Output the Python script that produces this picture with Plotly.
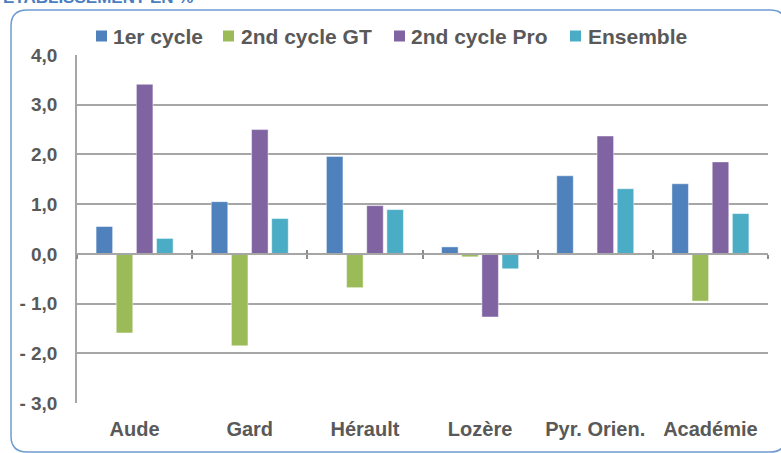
import plotly.graph_objects as go

categories = ["Aude", "Gard", "Hérault", "Lozère", "Pyr. Orien.", "Académie"]
series_names = ["1er cycle", "2nd cycle GT", "2nd cycle Pro", "Ensemble"]
v_1er = [0.55, 1.05, 1.96, 0.14, 1.57, 1.41]
v_gt = [-1.59, -1.85, -0.68, -0.06, None, -0.95]
v_pro = [3.41, 2.50, 0.97, -1.27, 2.37, 1.85]
v_ens = [0.31, 0.71, 0.89, -0.30, 1.31, 0.81]
y_tickvals = [-3, -2, -1, 0, 1, 2, 3, 4]
y_ticktext = ["- 3,0", "- 2,0", "- 1,0", "0,0", "1,0", "2,0", "3,0", "4,0"]
title_text = "ÉTABLISSEMENT EN %"

colors = ["#4f81bd", "#9bbb59", "#8064a2", "#4bacc6"]
values = [v_1er, v_gt, v_pro, v_ens]

W, H = 781, 453
ML, MR, MT, MB = 77, 13, 55, 50
PW, PH = W - ML - MR, H - MT - MB


def px(x):
    return (x - ML) / PW


def py(y):
    return (H - MB - y) / PH


fig = go.Figure()
for name, vals, col in zip(series_names, values, colors):
    fig.add_trace(go.Bar(
        x=categories, y=vals, name=name,
        marker=dict(color=col, line=dict(color="rgba(255,255,255,0.45)", width=1)),
        showlegend=False,
    ))

grey = "#595959"
font_family = "Liberation Sans, Arial, sans-serif"
boundaries = [i - 0.5 for i in range(len(categories) + 1)]

fig.update_layout(
    width=W, height=H,
    margin=dict(l=ML, r=MR, t=MT, b=MB),
    paper_bgcolor="white", plot_bgcolor="white",
    barmode="group", bargap=0.3, bargroupgap=0.18,
    font=dict(family=font_family, color=grey),
    xaxis=dict(
        type="category", range=[-0.5, len(categories) - 0.5],
        showgrid=False, zeroline=False, showline=False, ticks="",
        tickfont=dict(size=20, color=grey, family=font_family, weight="bold"),
        ticklabelstandoff=12,
    ),
    yaxis=dict(
        range=[-3, 4], tickvals=y_tickvals, ticktext=y_ticktext,
        showgrid=True, gridcolor="#a6a6a6", gridwidth=1.5,
        zeroline=False, showline=True, linecolor="#a6a6a6", linewidth=1.5,
        ticks="", ticklabelstandoff=14,
        tickfont=dict(size=19, color=grey, family=font_family, weight="bold"),
    ),
    xaxis2=dict(
        overlaying="x", anchor="free", position=3 / 7, range=[-0.5, len(categories) - 0.5],
        tickvals=boundaries, showticklabels=False, ticks="outside", ticklen=4,
        tickcolor="#8c8c8c", tickwidth=1.5, showgrid=False, zeroline=False,
        showline=True, linecolor="#a6a6a6", linewidth=1.5,
    ),
    xaxis3=dict(
        overlaying="x", anchor="free", position=3 / 7, range=[-0.5, len(categories) - 0.5],
        tickvals=boundaries, showticklabels=False, ticks="inside", ticklen=4,
        tickcolor="#8c8c8c", tickwidth=1.5, showgrid=False, zeroline=False,
        showline=False,
    ),
)

# invisible traces to make the crossing-tick axes render
for ax in ["x2", "x3"]:
    fig.add_trace(go.Scatter(x=[0], y=[0], xaxis=ax, yaxis="y", mode="markers",
                             marker=dict(opacity=0), showlegend=False, hoverinfo="skip"))

# manual legend
leg_sq_x = [96, 223, 394, 570]
leg_tx_x = [111, 239, 409, 586]
leg_y = 36
shapes = []
annotations = []
for name, col, sx, tx in zip(series_names, colors, leg_sq_x, leg_tx_x):
    shapes.append(dict(type="rect", xref="paper", yref="paper",
                       x0=px(sx), x1=px(sx + 11), y0=py(leg_y - 5.5), y1=py(leg_y + 5.5),
                       fillcolor=col, line=dict(width=0)))
    annotations.append(dict(xref="paper", yref="paper", x=px(tx), y=py(leg_y),
                            xanchor="left", yanchor="middle", showarrow=False, text=name,
                            font=dict(size=21, color=grey, family=font_family, weight="bold")))

# rounded frame
x0, x1, y0, y1, r = 11, 786, 10, 452, 16
path = (f"M {px(x0 + r)},{py(y0)} L {px(x1 - r)},{py(y0)} Q {px(x1)},{py(y0)} {px(x1)},{py(y0 + r)} "
        f"L {px(x1)},{py(y1 - r)} Q {px(x1)},{py(y1)} {px(x1 - r)},{py(y1)} "
        f"L {px(x0 + r)},{py(y1)} Q {px(x0)},{py(y1)} {px(x0)},{py(y1 - r)} "
        f"L {px(x0)},{py(y0 + r)} Q {px(x0)},{py(y0)} {px(x0 + r)},{py(y0)} Z")
shapes.append(dict(type="path", xref="paper", yref="paper", path=path,
                   line=dict(color="#6f9bd1", width=1.5), layer="below"))

annotations.append(dict(xref="paper", yref="paper", x=px(1), y=py(9),
                        xanchor="left", yanchor="bottom", showarrow=False, text=title_text,
                        font=dict(size=17, color="#4a7ebf", family=font_family, weight="bold")))

fig.update_layout(shapes=shapes, annotations=annotations)
fig.write_html("out.html", config={"displayModeBar": False},
               post_script="document.body.style.margin='0';document.body.style.overflow='hidden';")
